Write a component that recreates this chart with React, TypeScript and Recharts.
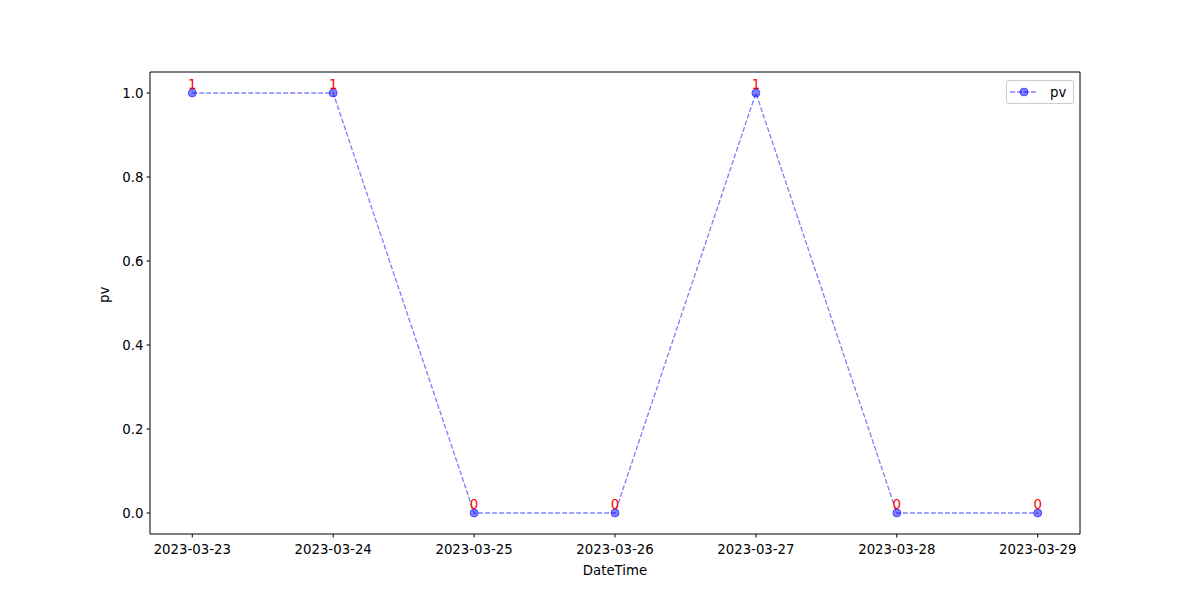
import React from 'react';
import { LineChart, Line, XAxis, YAxis, ReferenceArea, LabelList } from 'recharts';

const dates = ['2023-03-23', '2023-03-24', '2023-03-25', '2023-03-26', '2023-03-27', '2023-03-28', '2023-03-29'];
const pvValues = [1, 1, 0, 0, 1, 0, 0];
const yTicks = [0, 0.2, 0.4, 0.6, 0.8, 1.0];

const data = dates.map((d, i) => ({ idx: i, date: d, pv: pvValues[i] }));

const FONT = 'DejaVu Sans';
const BLUE = '#0000ff';

const Dot = (props: any) => {
  const { cx, cy } = props;
  return <circle cx={cx} cy={cy} r={4} fill={BLUE} fillOpacity={0.5} stroke={BLUE} strokeOpacity={0.5} strokeWidth={1} />;
};

const ValueLabel = (props: any) => {
  const { x, y, value } = props;
  return (
    <text x={x} y={y - 4} textAnchor="middle" fill="red" fontFamily={FONT} fontSize={13.3}>
      {String(value)}
    </text>
  );
};

const LegendBox = () => (
  <svg width={68} height={24} style={{ display: 'block' }}>
    <rect x={0.5} y={0.5} width={67} height={23} rx={2} fill="white" stroke="#cccccc" />
    <line x1={4} y1={12} x2={32} y2={12} stroke={BLUE} strokeOpacity={0.5} strokeWidth={1.33} strokeDasharray="4.9 2.1" />
    <circle cx={18} cy={12} r={4} fill={BLUE} fillOpacity={0.5} stroke={BLUE} strokeOpacity={0.5} />
    <text x={44} y={16.5} fontFamily={FONT} fontSize={13.3} fill="#000">pv</text>
  </svg>
);

export default function App() {
  return (
    <div style={{ position: 'absolute', left: 0, top: 0, width: 1200, height: 600, background: '#fff' }}>
      <LineChart width={1200} height={600} data={data} margin={{ top: 72, right: 120, bottom: 36, left: 96 }}>
        <XAxis
          dataKey="idx"
          type="number"
          domain={[-0.3, 6.3]}
          ticks={[0, 1, 2, 3, 4, 5, 6]}
          tickFormatter={(v: number) => dates[v]}
          allowDataOverflow
          height={30}
          axisLine={false}
          tickLine={{ stroke: '#000' }}
          tickSize={3.5}
          tickMargin={3}
          tick={{ fill: '#000', fontFamily: FONT, fontSize: 13.3, dy: 4 }}
          interval={0}
          label={{ value: 'DateTime', position: 'insideBottom', offset: -11, fill: '#000', fontFamily: FONT, fontSize: 13.3 }}
        />
        <YAxis
          type="number"
          domain={[-0.05, 1.05]}
          ticks={yTicks}
          tickFormatter={(v: number) => v.toFixed(1)}
          allowDataOverflow
          width={54}
          axisLine={false}
          tickLine={{ stroke: '#000' }}
          tickSize={3.5}
          tickMargin={3}
          tick={{ fill: '#000', fontFamily: FONT, fontSize: 13.3 }}
          label={{ value: 'pv', angle: -90, position: 'insideLeft', offset: 8, fill: '#000', fontFamily: FONT, fontSize: 13.3 }}
        />
        <ReferenceArea x1={-0.3} x2={6.3} y1={-0.05} y2={1.05} fill="none" stroke="#000" strokeWidth={1} ifOverflow="visible" />
        <Line
          dataKey="pv"
          name="pv"
          stroke={BLUE}
          strokeOpacity={0.5}
          strokeWidth={1.33}
          strokeDasharray="4.9 2.1"
          type="linear"
          dot={<Dot />}
          activeDot={false}
          isAnimationActive={false}
        >
          <LabelList dataKey="pv" content={<ValueLabel />} />
        </Line>
      </LineChart>
      <div style={{ position: 'absolute', left: 1006, top: 80 }}>
        <LegendBox />
      </div>
    </div>
  );
}
